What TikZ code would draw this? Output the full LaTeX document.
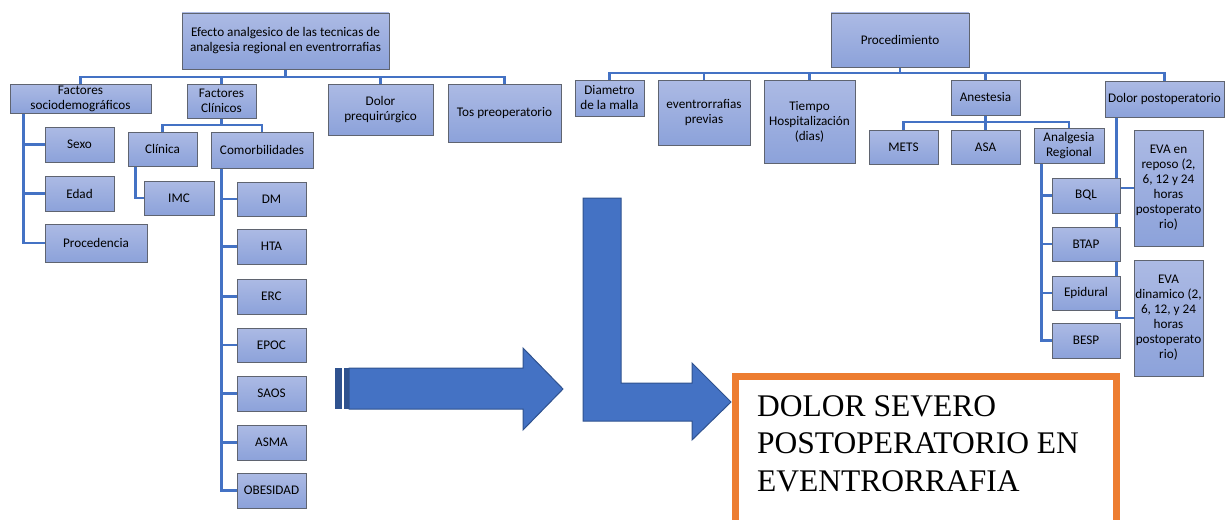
\documentclass[tikz,border=0pt]{standalone}
\usepackage{fontspec}
\setmainfont{Carlito}
\newfontfamily\serifbig{Liberation Serif}
\usetikzlibrary{backgrounds}
\definecolor{boxtop}{RGB}{172,186,228}
\definecolor{boxbot}{RGB}{140,162,218}
\definecolor{boxline}{RGB}{95,100,112}
\definecolor{connblue}{RGB}{68,114,196}
\definecolor{arrowfill}{RGB}{68,114,196}
\definecolor{arrowline}{RGB}{47,82,143}
\definecolor{orangeb}{RGB}{237,125,49}
\tikzset{
  bx/.style={draw=boxline, line width=0.9pt, top color=boxtop, bottom color=boxbot,
    inner sep=1pt, align=center, font=\fontsize{13.2}{15}\selectfont, text=black},
  conn/.style={draw=connblue, line width=2.6pt},
  bigarrow/.style={fill=arrowfill, draw=arrowline, line width=1pt, line join=miter},
}
\begin{document}
\begin{tikzpicture}[x=1pt,y=-1pt]
\useasboundingbox (0,0) rectangle (1225,519);
\clip (0,0) rectangle (1225,519);
% ---------- left tree ----------
\node[bx, minimum width=207pt, minimum height=56pt] (root) at (285.5,41) {Efecto analgesico de las tecnicas de\\analgesia regional en eventrorrafias};
\node[bx, minimum width=141pt, minimum height=29pt] (fs) at (80.5,98.5) {Factores\\sociodemográficos};
\node[bx, minimum width=69pt, minimum height=34pt] (fc) at (221.5,101) {Factores\\Clínicos};
\node[bx, minimum width=105pt, minimum height=51pt] (dp) at (380.5,109.5) {Dolor\\prequirúrgico};
\node[bx, minimum width=113pt, minimum height=58pt] (tos) at (504.5,113) {Tos preoperatorio};
\node[bx, minimum width=69pt, minimum height=35pt] (sexo) at (79.5,144.5) {Sexo};
\node[bx, minimum width=69pt, minimum height=35pt] (edad) at (79.5,193.5) {Edad};
\node[bx, minimum width=102pt, minimum height=38pt] (proc) at (96,243) {Procedencia};
\node[bx, minimum width=69pt, minimum height=34pt] (clin) at (162.5,149) {Clínica};
\node[bx, minimum width=102pt, minimum height=36pt] (como) at (262,150) {Comorbilidades};
\node[bx, minimum width=70pt, minimum height=34pt] (imc) at (179,198) {IMC};
\node[bx, minimum width=69pt, minimum height=34pt] (dm) at (271.5,199) {DM};
\node[bx, minimum width=69pt, minimum height=35pt] (hta) at (271.5,246.5) {HTA};
\node[bx, minimum width=69pt, minimum height=35pt] (erc) at (271.5,296.5) {ERC};
\node[bx, minimum width=69pt, minimum height=34pt] (epoc) at (271.5,345) {EPOC};
\node[bx, minimum width=69pt, minimum height=35pt] (saos) at (271.5,393.5) {SAOS};
\node[bx, minimum width=69pt, minimum height=35pt] (asma) at (271.5,442.5) {ASMA};
\node[bx, minimum width=69pt, minimum height=35pt] (obes) at (271.5,490.5) {OBESIDAD};
% ---------- right tree ----------
\node[bx, minimum width=138pt, minimum height=54pt] (pro) at (900,40) {Procedimiento};
\node[bx, minimum width=69pt, minimum height=36pt] (diam) at (609.5,98) {Diametro\\de la malla};
\node[bx, minimum width=92pt, minimum height=65pt] (evp) at (704,112.5) {eventrorrafias\\previas};
\node[bx, minimum width=91pt, minimum height=83pt] (tiem) at (809.5,121.5) {Tiempo\\Hospitalización\\(dias)};
\node[bx, minimum width=69pt, minimum height=35pt] (anes) at (985.5,97.5) {Anestesia};
\node[bx, minimum width=119pt, minimum height=36pt] (dpo) at (1164.5,99) {Dolor postoperatorio};
\node[bx, minimum width=69pt, minimum height=34pt] (mets) at (903.5,147) {METS};
\node[bx, minimum width=69pt, minimum height=34pt] (asa) at (985.5,147) {ASA};
\node[bx, minimum width=70pt, minimum height=35pt] (ar) at (1069,145.5) {Analgesia\\Regional};
\node[bx, minimum width=68pt, minimum height=35pt] (bql) at (1086,195.5) {BQL};
\node[bx, minimum width=68pt, minimum height=34pt] (btap) at (1086,244) {BTAP};
\node[bx, minimum width=68pt, minimum height=34pt] (epi) at (1086,293) {Epidural};
\node[bx, minimum width=68pt, minimum height=35pt] (besp) at (1086,340.5) {BESP};
\node[bx, minimum width=69pt, minimum height=116pt] (evar) at (1168.5,188) {EVA en\\reposo (2,\\6, 12 y 24\\horas\\postoperato\\rio)};
\node[bx, minimum width=69pt, minimum height=116pt] (evad) at (1168.5,318) {EVA\\dinamico (2,\\6, 12, y 24\\horas\\postoperato\\rio)};
% ---------- connectors ----------
\coordinate (b1) at (285.5,77);
\coordinate (b2) at (221.5,125);
\coordinate (b3) at (900,73);
\coordinate (b4) at (985.5,122);
\begin{scope}[on background layer]
\draw[conn] (root.south) -- (root.south |- b1);
\draw[conn] (fs.north) |- (b1) -| (tos.north);
\draw[conn] (fc.north) -- (fc.north |- b1);
\draw[conn] (dp.north) -- (dp.north |- b1);
\draw[conn] ([xshift=14pt]fs.south west) |- (sexo.west);
\draw[conn] ([xshift=14pt]fs.south west) |- (edad.west);
\draw[conn] ([xshift=14pt]fs.south west) |- (proc.west);
\draw[conn] (fc.south) -- (fc.south |- b2);
\draw[conn] (clin.north) |- (b2) -| (como.north);
\draw[conn] ([xshift=8pt]clin.south west) |- (imc.west);
\foreach \n in {dm,hta,erc,epoc,saos,asma,obes}
  \draw[conn] ([xshift=11pt]como.south west) |- (\n.west);
\draw[conn] (pro.south) -- (pro.south |- b3);
\draw[conn] (diam.north) |- (b3) -| (dpo.north);
\draw[conn] (evp.north) -- (evp.north |- b3);
\draw[conn] (tiem.north) -- (tiem.north |- b3);
\draw[conn] (anes.north) -- (anes.north |- b3);
\draw[conn] (anes.south) -- (anes.south |- b4);
\draw[conn] (mets.north) |- (b4) -| (ar.north);
\draw[conn] (asa.north) -- (asa.north |- b4);
\foreach \n in {bql,btap,epi,besp}
  \draw[conn] ([xshift=8pt]ar.south west) |- (\n.west);
\draw[conn] ([xshift=12pt]dpo.south west) |- (evad.west);
\draw[conn] ([xshift=12pt]dpo.south west) |- (evar.west);
\end{scope}
% ---------- big arrows ----------
\fill[arrowline] (335,368) rectangle (342,409);
\fill[arrowline] (343.5,368) rectangle (348.5,409);
\draw[bigarrow] (349,368) -- (523,368) -- (523,348) -- (563,389) -- (523,430) -- (523,409) -- (349,409) -- cycle;
\draw[bigarrow] (583,198) -- (621,198) -- (621,383) -- (692,383) -- (692,363) -- (731,402) -- (692,440) -- (692,421) -- (583,421) -- cycle;
% ---------- result box ----------
\draw[orangeb, line width=7pt] (735.5,545) -- (735.5,376.5) -- (1116.5,376.5) -- (1116.5,545);
\node[anchor=base west, inner sep=0pt, font=\serifbig\fontsize{31.5}{37.5}\selectfont] (t1) at (757,416) {DOLOR SEVERO};
\node[anchor=base west, inner sep=0pt, font=\serifbig\fontsize{31.5}{37.5}\selectfont] (t2) at (757,453.5) {POSTOPERATORIO EN};
\node[anchor=base west, inner sep=0pt, font=\serifbig\fontsize{31.5}{37.5}\selectfont] (t3) at (757,491) {EVENTRORRAFIA};
\end{tikzpicture}
\end{document}
